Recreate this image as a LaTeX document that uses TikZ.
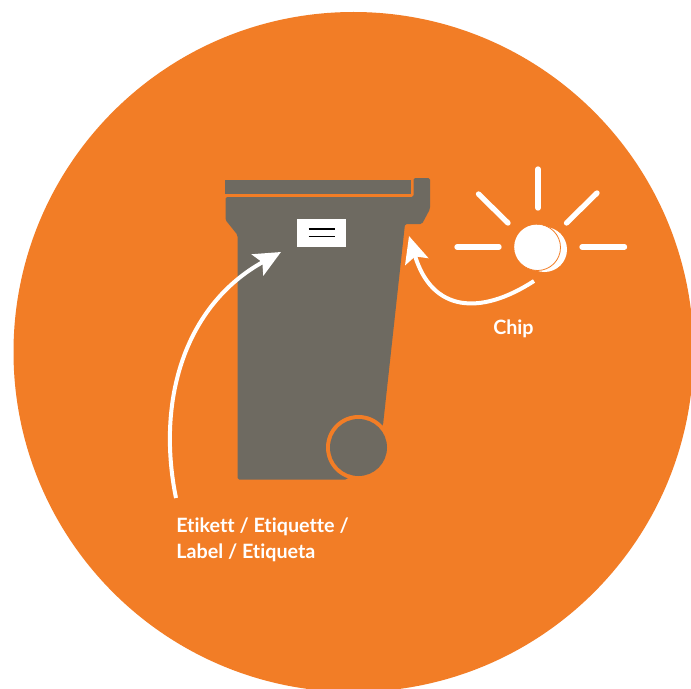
\documentclass[tikz,border=0pt]{standalone}
\usepackage{fontspec}
\setmainfont{Lato}[Ligatures=NoCommon]
\usetikzlibrary{arrows.meta}
\definecolor{bgorange}{RGB}{242,125,38}
\definecolor{bingray}{RGB}{110,106,97}
\tikzset{
  x=0.75pt,y=-0.75pt,
  binpart/.style={fill=bingray,draw=none,rounded corners=1.2pt},
  ray/.style={draw=white,line width=4pt,line cap=round},
  pointer/.style={draw=white,line width=3pt,-{Stealth[length=20pt,width=18pt,inset=4pt]}},
  caption/.style={text=white,font=\bfseries\fontsize{14.8pt}{18.8pt}\selectfont,inner sep=0pt,align=left},
}
\begin{document}
\begin{tikzpicture}
\useasboundingbox (0,0) rectangle (691,688);
\clip (0,0) rectangle (691,688);
\fill[white] (0,0) rectangle (691,688);
\fill[bgorange] (353.5,352) circle[radius=340];
% bin
\fill[binpart,rounded corners=0pt] (225,180) rectangle (411,194);
\fill[binpart] (225.5,197) -- (413.5,197) -- (413.5,178) -- (430,178) -- (430,209) -- (422,224) -- (405,224)
  -- (383,425) -- (347,479.5) -- (237.5,479.5) -- (237.5,235) -- (225.5,220) -- cycle;
\fill[bgorange] (358.5,447.5) circle[radius=32.5];
\fill[bingray] (358.5,447.5) circle[radius=28.5];
% label
\node[fill=white,minimum width=36.75pt,minimum height=21pt,inner sep=0pt] (tag) at (321.5,233) {};
\draw[black,line width=1pt] (308.5,229) -- (335,229) (308.5,236.5) -- (335,236.5);
% chip
\fill[white] (544.5,249.5) circle[radius=22.5];
\node[circle,fill=white,draw=bgorange,line width=0.6pt,minimum size=34.5pt,inner sep=0pt] (chip) at (537.5,247.5) {};
\fill[white] (536.5,247) circle[radius=22.3];
\draw[ray] (538,169) -- (538,208);
\draw[ray] (478.5,194) -- (508,223);
\draw[ray] (597,193) -- (566.5,223);
\draw[ray] (457,247) -- (499,247);
\draw[ray] (582,247) -- (624.5,247);
% captions
\node[caption,anchor=base west] (etikett) at (176,558) {Etikett / Etiquette /\\Label / Etiqueta};
\node[caption,anchor=base west] (chiplabel) at (493,334) {Chip};
% connectors
\coordinate (tagtip) at (281,252);
\coordinate (bintip) at (409,236);
\coordinate (etikettstart) at (176,498);
\coordinate (chipstart) at (534,281);
\draw[pointer] (etikettstart) .. controls (156,400) and (185,305) .. (tagtip);
\draw[pointer] (chipstart) .. controls (480,316) and (432,312) .. (bintip);
\end{tikzpicture}
\end{document}
